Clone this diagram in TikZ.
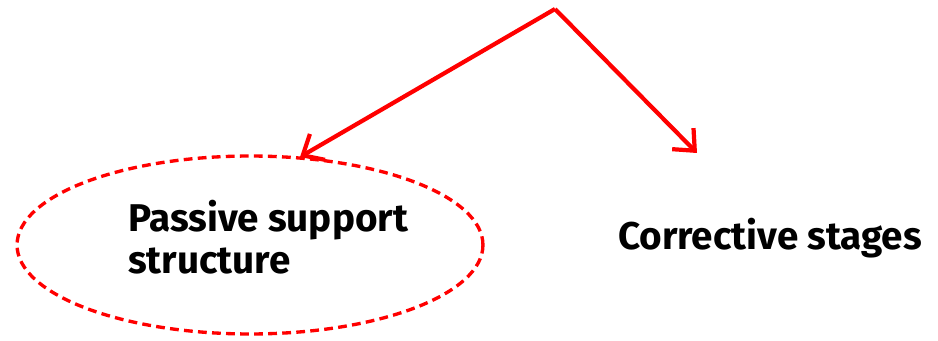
\documentclass[tikz,border=0pt]{standalone}
\usepackage{fontspec}
\setmainfont{Fira Sans}
\usetikzlibrary{arrows.meta, positioning, shapes.geometric}
\definecolor{mRed}{HTML}{FF0000}

\begin{document}
\begin{tikzpicture}[x=0.02cm, y=-0.02cm,
    redarrow/.style={draw=mRed, line width=2.4pt, -{Straight Barb[length=3.4mm, width=6mm, line width=2.4pt]}},
    label/.style={font=\fontsize{22}{24}\selectfont\bfseries, align=left}]
    \useasboundingbox (0,0) rectangle (938,341);
    \node[draw=mRed, dash pattern=on 5pt off 3pt, line width=1.9pt, ellipse, minimum width=9.32cm, minimum height=3.56cm] (passive) at (250,245) {};
    \node[label, anchor=west] (passivetxt) at (122,237) {Passive support\\structure};
    \node[label] (corrective) at (770,238) {Corrective stages};
    \coordinate (top) at (555,9);
    \coordinate (corrtip) at (697,153);
    \draw[redarrow] (top) -- (300,157);
    \draw[redarrow] (top) -- (corrtip);
  \end{tikzpicture}
\end{document}
